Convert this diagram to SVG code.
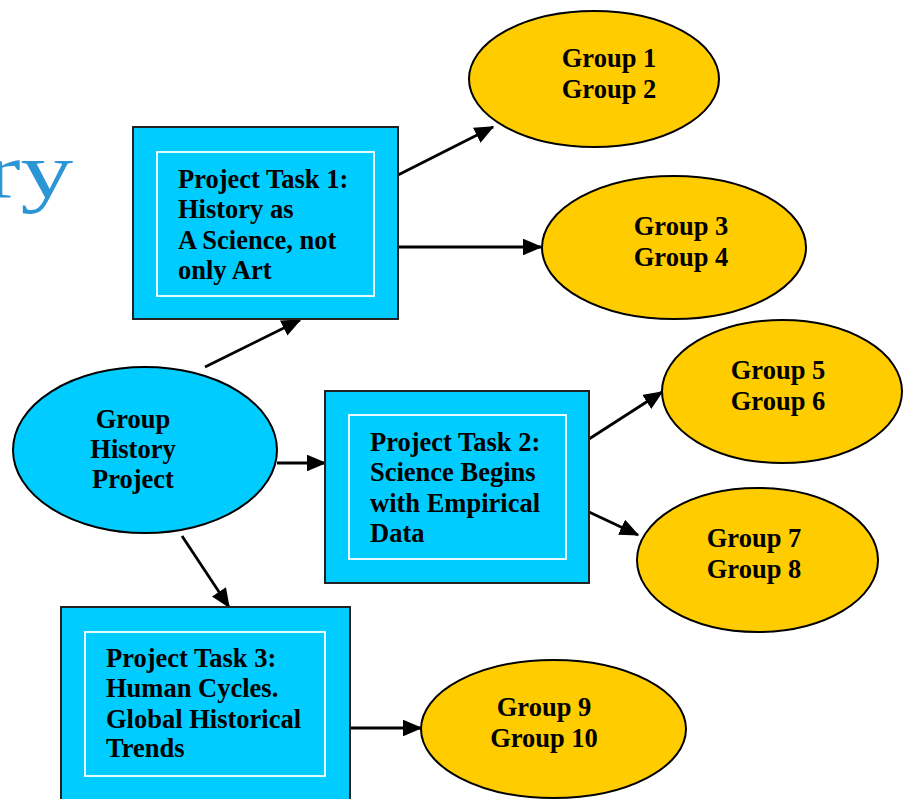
<svg xmlns="http://www.w3.org/2000/svg" width="904" height="799" viewBox="0 0 904 799">
  <style>
    .box { fill: #00CCFF; stroke: #222; stroke-width: 2; }
    .inner { fill: none; stroke: #ffffff; stroke-width: 1.8; }
    .blue { fill: #00CCFF; stroke: #000; stroke-width: 2; }
    .yel { fill: #FFCC00; stroke: #000; stroke-width: 2; }
    .t { font-family: "Liberation Serif", "Times New Roman", serif; font-weight: bold; font-size: 26.5px; fill: #000; }
    .c { text-anchor: middle; }
    .conn line { stroke: #000; stroke-width: 2.8; }
  </style>
  <defs>
    <marker id="ah" markerWidth="7" markerHeight="6" refX="6.5" refY="3" orient="auto" markerUnits="strokeWidth">
      <path d="M0,0 L7,3 L0,6 Z" fill="#000"/>
    </marker>
  </defs>
  <rect width="904" height="799" fill="#ffffff"/>

  <text x="75" y="197" text-anchor="end" font-family="Liberation Serif, serif" font-size="78" fill="#2b95d6" transform="translate(-28,0) scale(1.35,1)">ry</text>

  <g class="conn">
    <line x1="205" y1="367" x2="300" y2="320" marker-end="url(#ah)"/>
    <line x1="277" y1="463" x2="325" y2="463" marker-end="url(#ah)"/>
    <line x1="182" y1="536" x2="229" y2="607" marker-end="url(#ah)"/>
    <line x1="398" y1="175" x2="493" y2="127" marker-end="url(#ah)"/>
    <line x1="398" y1="247" x2="541" y2="247" marker-end="url(#ah)"/>
    <line x1="589" y1="439" x2="662" y2="392" marker-end="url(#ah)"/>
    <line x1="589" y1="512" x2="638" y2="535" marker-end="url(#ah)"/>
    <line x1="350" y1="728" x2="421" y2="728" marker-end="url(#ah)"/>
  </g>

  <g id="task1">
    <rect class="box" x="133" y="127" width="265" height="192"/>
    <rect class="inner" x="157" y="152" width="217" height="144"/>
    <text class="t" x="178" y="188">Project Task 1:</text>
    <text class="t" x="178" y="218">History as</text>
    <text class="t" x="178" y="249">A Science, not</text>
    <text class="t" x="178" y="279">only Art</text>
  </g>

  <g id="task2">
    <rect class="box" x="325" y="391" width="264" height="192"/>
    <rect class="inner" x="349" y="415" width="217" height="144"/>
    <text class="t" x="370" y="451">Project Task 2:</text>
    <text class="t" x="370" y="481">Science Begins</text>
    <text class="t" x="370" y="512">with Empirical</text>
    <text class="t" x="370" y="542">Data</text>
  </g>

  <g id="task3">
    <rect class="box" x="61" y="607" width="289" height="200"/>
    <rect class="inner" x="85" y="632" width="240" height="144"/>
    <text class="t" x="106" y="667">Project Task 3:</text>
    <text class="t" x="106" y="697">Human Cycles.</text>
    <text class="t" x="106" y="728">Global Historical</text>
    <text class="t" x="106" y="757">Trends</text>
  </g>

  <g id="project">
    <ellipse class="blue" cx="145" cy="450" rx="132" ry="83"/>
    <text class="t c" x="133" y="428">Group</text>
    <text class="t c" x="133" y="458">History</text>
    <text class="t c" x="133" y="488">Project</text>
  </g>

  <g id="g12">
    <ellipse class="yel" cx="594" cy="79" rx="125" ry="68"/>
    <text class="t c" x="609" y="67">Group 1</text>
    <text class="t c" x="609" y="98">Group 2</text>
  </g>
  <g id="g34">
    <ellipse class="yel" cx="674" cy="247.5" rx="132" ry="71.5"/>
    <text class="t c" x="681" y="235">Group 3</text>
    <text class="t c" x="681" y="266">Group 4</text>
  </g>
  <g id="g56">
    <ellipse class="yel" cx="782" cy="391.5" rx="120" ry="71.5"/>
    <text class="t c" x="778" y="379">Group 5</text>
    <text class="t c" x="778" y="410">Group 6</text>
  </g>
  <g id="g78">
    <ellipse class="yel" cx="757.5" cy="560" rx="120.5" ry="72"/>
    <text class="t c" x="754" y="547">Group 7</text>
    <text class="t c" x="754" y="578">Group 8</text>
  </g>
  <g id="g910">
    <ellipse class="yel" cx="553.5" cy="729" rx="132.5" ry="69"/>
    <text class="t c" x="544" y="716">Group 9</text>
    <text class="t c" x="544" y="747">Group 10</text>
  </g>
</svg>
